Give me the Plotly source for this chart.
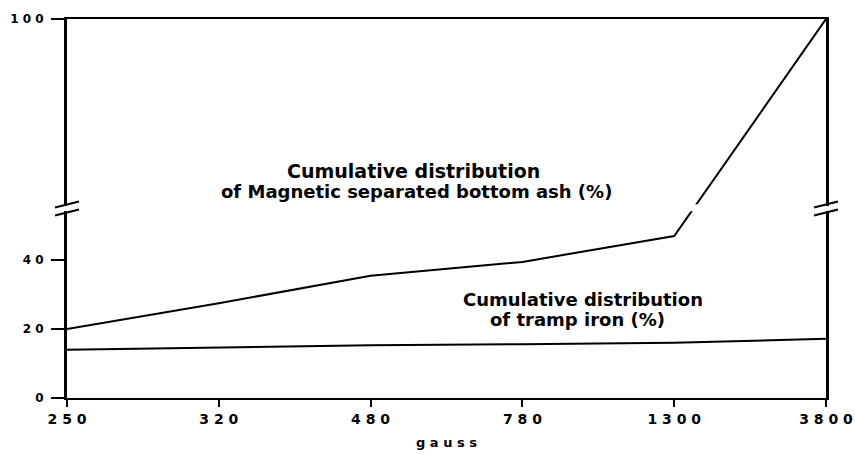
import plotly.graph_objects as go

# ---- data ----
gauss = ["250", "320", "480", "780", "1300", "3800"]
gauss_labels = ["2 5 0", "3 2 0", "4 8 0", "7 8 0", "1 3 0 0", "3 8 0 0"]
magnetic_ash = [20, 27.5, 35.5, 39.5, 47, 100]
tramp_iron = [14, 14.7, 15.3, 15.6, 16, 17.2]
y_ticks = [0, 20, 40, 100]
y_tick_labels = ["0", "2 0", "4 0", "1 0 0"]

# broken-axis mapping: linear up to the break, compressed above it
BREAK = 55.0
TOP_REAL, TOP_DISP = 100.0, 110.0


def disp(v):
    if v <= BREAK:
        return v
    return BREAK + (v - BREAK) * (TOP_DISP - BREAK) / (TOP_REAL - BREAK)


FONT = "DejaVu Sans"

fig = go.Figure()
fig.add_trace(go.Scatter(x=gauss, y=[disp(v) for v in magnetic_ash], mode="lines",
                         line=dict(color="black", width=2), showlegend=False,
                         hoverinfo="skip"))
fig.add_trace(go.Scatter(x=gauss, y=[disp(v) for v in tramp_iron], mode="lines",
                         line=dict(color="black", width=2), showlegend=False,
                         hoverinfo="skip"))

shapes = []
# small gap in the rising line at the break level
shapes.append(dict(type="rect", xref="x", yref="y", x0=4.08, x1=4.2, y0=BREAK - 0.8,
                   y1=BREAK + 1.2, fillcolor="white", line=dict(width=0), layer="above"))
# axis break marks on both vertical axes
for xa in (0, 1):
    shapes.append(dict(type="rect", xref="paper", yref="y", xsizemode="pixel", ysizemode="pixel",
                       xanchor=xa, yanchor=disp(BREAK), x0=-3, x1=3, y0=-2.5, y1=2.5,
                       fillcolor="white", line=dict(width=0)))
    for dy in (4, -4):
        shapes.append(dict(type="line", xref="paper", yref="y", xsizemode="pixel",
                           ysizemode="pixel", xanchor=xa, yanchor=disp(BREAK),
                           x0=-12, x1=12, y0=dy - 3, y1=dy + 3,
                           line=dict(color="black", width=2)))


def label(text, x, y, size, family=FONT):
    return dict(text=text, xref="paper", yref="paper", x=x, y=y, showarrow=False,
                xanchor="center", yanchor="middle",
                font=dict(family=family, size=size, color="black", weight="bold"))


annotations = [
    label("Cumulative distribution", 0.456, 0.599, 19),
    label("of Magnetic separated bottom ash (%)", 0.460, 0.544, 18),
    label("Cumulative distribution", 0.680, 0.259, 18),
    label("of tramp iron (%)", 0.672, 0.206, 18),
    label("g a u s s", 0.5, -0.118, 13),
]

fig.update_layout(
    width=855, height=455,
    margin=dict(l=67, r=29, t=19, b=57, autoexpand=False),
    plot_bgcolor="white", paper_bgcolor="white",
    shapes=shapes, annotations=annotations,
    xaxis=dict(type="category", range=[0, 5], tickvals=gauss, ticktext=gauss_labels,
               automargin=False,
               showline=True, linecolor="black", linewidth=2, mirror=True,
               ticks="outside", ticklen=7, tickwidth=2, tickcolor="black",
               showgrid=False, zeroline=False,
               tickfont=dict(family=FONT, size=14, color="black", weight="bold")),
    yaxis=dict(range=[0, TOP_DISP], tickvals=[disp(v) for v in y_ticks],
               ticktext=y_tick_labels, automargin=False,
               showline=True, linecolor="black", linewidth=3, mirror=True,
               ticks="outside", ticklen=13, tickwidth=2, tickcolor="black",
               ticklabelstandoff=5,
               showgrid=False, zeroline=False,
               tickfont=dict(family=FONT, size=12, color="black", weight="bold")),
)

fig.write_html("out.html",
               config={"displayModeBar": False},
               post_script="document.body.style.margin='0px';"
                           "document.body.style.overflow='hidden';")
